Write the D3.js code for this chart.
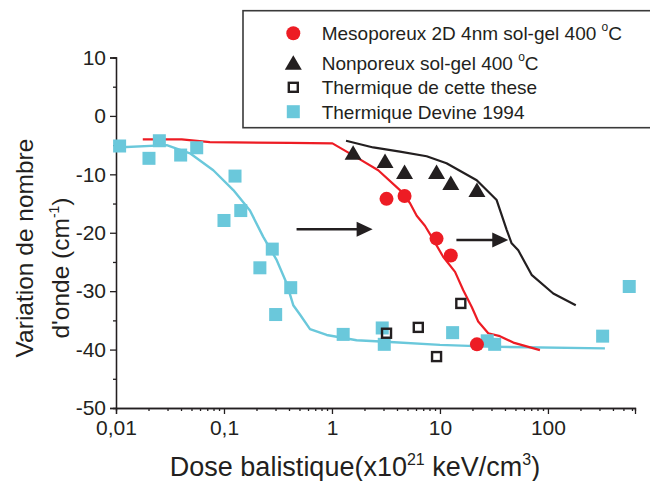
<!DOCTYPE html>
<html><head><meta charset="utf-8">
<script src="https://cdn.jsdelivr.net/npm/d3@7"></script>
<style>
html,body{margin:0;padding:0;background:#fff;}
svg{display:block;font-family:Arial,"Liberation Sans",Helvetica,sans-serif;}
</style></head>
<body>
<svg id="chart" width="650" height="481"></svg>
<script>
// ---- data ----
const xTickValues = [0.01, 0.1, 1, 10, 100];
const xTickLabels = ["0,01", "0,1", "1", "10", "100"];
const yTickValues = [10, 0, -10, -20, -30, -40, -50];

const legendLabels = ["Mesoporeux 2D 4nm sol-gel 400 ", "Nonporeux sol-gel 400 ", "Thermique de cette these", "Thermique Devine 1994"];

const mesoX = [3.2, 4.7, 9.3, 12.6, 22];
const mesoY = [-14.2, -13.7, -21.0, -23.9, -39.1];

const nonpX = [1.57, 3.1, 4.7, 9.3, 12.6, 22];
const nonpY = [-6.3, -7.7, -9.6, -9.6, -11.5, -12.7];

const thermX = [3.2, 6.3, 9.3, 15.6];
const thermY = [-37.2, -36.2, -41.2, -32.1];

const devineX = [0.0108, 0.0202, 0.0252, 0.0397, 0.0559, 0.1, 0.1265, 0.143, 0.215, 0.28, 0.301, 0.415, 1.27, 2.92, 3.05, 13.1, 27.4, 32.1, 321, 566];
const devineY = [-5.15, -7.26, -4.25, -6.7, -5.45, -17.9, -10.3, -16.2, -26.0, -22.8, -34.0, -29.4, -37.4, -36.3, -39.1, -37.1, -38.5, -39.1, -37.7, -29.2];

const redLineX = [0.0177, 0.0406, 0.074, 0.408, 1.01, 1.69, 2.68, 4.26, 5.27, 6.09, 7.26, 8.38, 10.7, 13.8, 16.4, 19.7, 22.6, 28.0, 35.9, 47.8, 84.3];
const redLineY = [-4.0, -4.0, -4.5, -4.6, -4.7, -7.1, -9.3, -12.7, -14.9, -17.1, -18.8, -20.7, -24.1, -26.7, -29.8, -32.7, -35.2, -37.2, -37.7, -38.8, -40.1];

const blackLineX = [1.35, 2.41, 4.26, 7.53, 11.5, 21.9, 33.5, 41.5, 46.1, 53.1, 70.6, 112, 181];
const blackLineY = [-4.25, -5.4, -6.1, -6.9, -8.1, -11.0, -14.4, -19.5, -21.8, -23.0, -27.2, -30.4, -32.4];

const cyanLineX = [0.01, 0.0295, 0.0484, 0.0796, 0.122, 0.174, 0.231, 0.308, 0.381, 0.438, 0.505, 0.626, 0.893, 1.69, 3.44, 10, 29, 337];
const cyanLineY = [-5.4, -5.0, -6.4, -9.3, -12.7, -16.2, -20.7, -24.7, -28.7, -32.4, -34.0, -36.5, -37.5, -38.4, -38.7, -39.2, -39.5, -39.8];

// annotation arrows (data space)
const arrowFromX = [0.47, 14.2];
const arrowToX = [2.38, 42.9];
const arrowY = [-19.4, -21.25];

// ---- style ----
const RED = "#ed1c24", CYAN = "#6ac8db", BLACK = "#231f20";

const svg = d3.select("#chart");
const x = d3.scaleLog().domain([0.01, 640]).range([116, 635]);
const y = d3.scaleLinear().domain([-50, 10]).range([408, 57.5]);

// axes
const minorX = [];
for (let e = -2; e <= 2; e++) for (let m = 2; m <= 9; m++) { const v = m * Math.pow(10, e); if (v <= 640) minorX.push(v); }
const xAxisMinor = d3.axisBottom(x).tickValues(minorX).tickSize(3).tickFormat("");
const xAxis = d3.axisBottom(x).tickValues(xTickValues).tickSize(6).tickPadding(6)
  .tickFormat((d, i) => xTickLabels[i]);
const gxm = svg.append("g").attr("transform", `translate(0,${y(-50)})`).call(xAxisMinor);
const gx = svg.append("g").attr("transform", `translate(0,${y(-50)})`).call(xAxis);

const minorY = d3.range(-45, 10, 10);
const yAxisMinor = d3.axisLeft(y).tickValues(minorY).tickSize(3).tickFormat("");
const yAxis = d3.axisLeft(y).tickValues(yTickValues).tickSize(6).tickPadding(4).tickFormat(d3.format("d"));
const gym = svg.append("g").attr("transform", `translate(${x(0.01)},0)`).call(yAxisMinor);
const gy = svg.append("g").attr("transform", `translate(${x(0.01)},0)`).call(yAxis);

[gx, gxm, gy, gym].forEach(g => {
  g.select(".domain").attr("stroke", BLACK).attr("stroke-width", 1.3);
  g.selectAll(".tick line").attr("stroke", BLACK).attr("stroke-width", 1.3);
  g.selectAll(".tick text").attr("fill", "#231f20").attr("font-size", 21)
    .attr("font-family", "Arial, 'Liberation Sans', sans-serif");
});
gy.selectAll(".tick text").text(d => d < 0 ? "-" + Math.abs(d) : d);

// axis titles
const xt = svg.append("text").attr("x", 355).attr("y", 476).attr("text-anchor", "middle")
  .attr("font-size", 27).attr("fill", "#231f20");
xt.append("tspan").text("Dose balistique(x10");
xt.append("tspan").attr("dy", -11).attr("font-size", 16).text("21");
xt.append("tspan").attr("dy", 11).text(" keV/cm");
xt.append("tspan").attr("dy", -11).attr("font-size", 16).text("3");
xt.append("tspan").attr("dy", 11).text(")");

const yt1 = svg.append("text").attr("transform", "translate(33,248) rotate(-90)").attr("text-anchor", "middle")
  .attr("font-size", 24.5).attr("fill", "#231f20").text("Variation de nombre");
const yt2 = svg.append("text").attr("transform", "translate(69,268) rotate(-90)").attr("text-anchor", "middle")
  .attr("font-size", 24.5).attr("fill", "#231f20");
yt2.append("tspan").text("d'onde (cm");
yt2.append("tspan").attr("dy", -10).attr("font-size", 14).text("-1");
yt2.append("tspan").attr("dy", 10).text(")");

// lines
const line = d3.line().x(d => x(d[0])).y(d => y(d[1]));
function drawLine(xs, ys, color, w) {
  svg.append("path").datum(xs.map((v, i) => [v, ys[i]])).attr("d", line)
    .attr("fill", "none").attr("stroke", color).attr("stroke-width", w).attr("stroke-linejoin", "round");
}
drawLine(cyanLineX, cyanLineY, CYAN, 2.4);
drawLine(redLineX, redLineY, RED, 2.2);
drawLine(blackLineX, blackLineY, BLACK, 2.2);

// arrows
arrowFromX.forEach((fx, i) => {
  const x0 = x(fx), x1 = x(arrowToX[i]), yy = y(arrowY[i]);
  svg.append("line").attr("x1", x0).attr("x2", x1 - 10).attr("y1", yy).attr("y2", yy)
    .attr("stroke", BLACK).attr("stroke-width", 2.5);
  svg.append("path").attr("d", `M${x1},${yy} L${x1 - 16},${yy - 7.5} L${x1 - 16},${yy + 7.5} Z`).attr("fill", BLACK);
});

// markers
function triPath(cx, cy) { return `M${cx},${cy - 7.5} L${cx + 8.5},${cy + 7} L${cx - 8.5},${cy + 7} Z`; }
const gPts = svg.append("g");
gPts.selectAll(".dev").data(devineX.map((v, i) => [v, devineY[i]])).join("rect")
  .attr("x", d => x(d[0]) - 6.5).attr("y", d => y(d[1]) - 6.5).attr("width", 13).attr("height", 13).attr("fill", CYAN);
gPts.selectAll(".th").data(thermX.map((v, i) => [v, thermY[i]])).join("rect")
  .attr("x", d => x(d[0]) - 4.5).attr("y", d => y(d[1]) - 4.5).attr("width", 9).attr("height", 9)
  .attr("fill", "none").attr("stroke", BLACK).attr("stroke-width", 2.4);
gPts.selectAll(".me").data(mesoX.map((v, i) => [v, mesoY[i]])).join("circle")
  .attr("cx", d => x(d[0])).attr("cy", d => y(d[1])).attr("r", 7).attr("fill", RED);
gPts.selectAll(".np").data(nonpX.map((v, i) => [v, nonpY[i]])).join("path")
  .attr("d", d => triPath(x(d[0]), y(d[1]))).attr("fill", BLACK);

// legend
const lg = svg.append("g");
lg.append("rect").attr("x", 243).attr("y", 10.7).attr("width", 420).attr("height", 117)
  .attr("fill", "#fff").attr("stroke", "#3a3a3a").attr("stroke-width", 1.6);
const rowY = [33.3, 62.7, 87.3, 111.7];
const mx = 293.3;
lg.append("circle").attr("cx", mx).attr("cy", rowY[0]).attr("r", 7).attr("fill", RED);
lg.append("path").attr("d", triPath(mx, rowY[1])).attr("fill", BLACK);
lg.append("rect").attr("x", mx - 4.5).attr("y", rowY[2] - 4.5).attr("width", 9).attr("height", 9)
  .attr("fill", "none").attr("stroke", BLACK).attr("stroke-width", 2.4);
lg.append("rect").attr("x", mx - 6.5).attr("y", rowY[3] - 6.5).attr("width", 13).attr("height", 13).attr("fill", CYAN);
legendLabels.forEach((t, i) => {
  const tx = lg.append("text").attr("x", 321.7).attr("y", rowY[i] + 6.8).attr("font-size", 19).attr("fill", "#231f20");
  tx.append("tspan").text(t);
  if (i < 2) {
    tx.append("tspan").attr("dy", -9).attr("font-size", 12).text("o");
    tx.append("tspan").attr("dy", 9).text("C");
  }
});
</script>
</body></html>
